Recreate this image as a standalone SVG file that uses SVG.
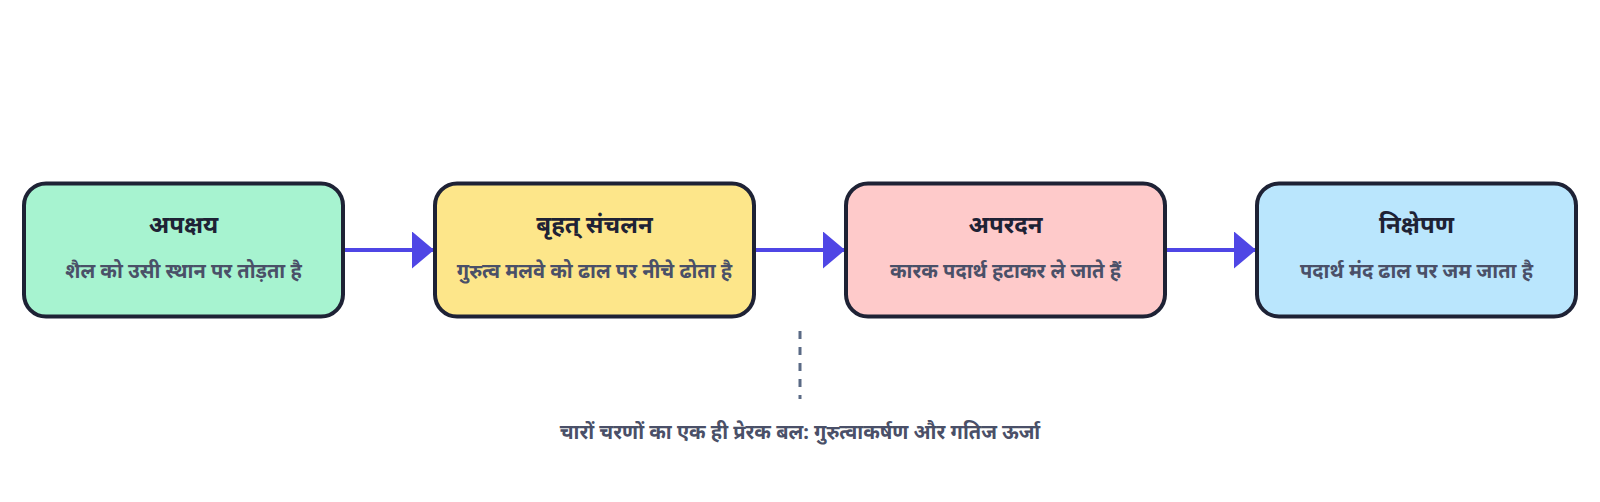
<svg xmlns="http://www.w3.org/2000/svg" width="1600" height="502" viewBox="0 0 1600 502">
<defs>
<style>
.box{stroke:#1e2235;stroke-width:4}
.t{font-family:"Noto Sans","Noto Sans Devanagari",sans-serif;font-weight:700;font-size:24px;fill:#1e2235;text-anchor:middle}
.s{font-family:"Noto Sans","Noto Sans Devanagari",sans-serif;font-weight:700;font-size:20px;fill:#4a5068;text-anchor:middle}
.c{stroke:#4f46e5;stroke-width:4;fill:none}
</style>
<marker id="ah" viewBox="0 0 22 37" refX="22" refY="18.5" markerWidth="22" markerHeight="37" markerUnits="userSpaceOnUse" orient="auto">
<path d="M0,0 L22,18.5 L0,37 Z" fill="#4f46e5"/>
</marker>
</defs>
<rect width="1600" height="502" fill="#ffffff"/>
<g id="connectors">
<line class="c" x1="344" y1="250" x2="434" y2="250" marker-end="url(#ah)"/>
<line class="c" x1="755" y1="250" x2="845" y2="250" marker-end="url(#ah)"/>
<line class="c" x1="1166" y1="250" x2="1256" y2="250" marker-end="url(#ah)"/>
<line x1="800" y1="331" x2="800" y2="399" stroke="#5a6a85" stroke-width="3" stroke-dasharray="8 8"/>
</g>
<g id="n1">
<rect class="box" x="24" y="183.5" width="319" height="133" rx="22" fill="#a7f3d0"/>
<text class="t" x="183.5" y="233">अपक्षय</text>
<text class="s" x="183.5" y="278">शैल को उसी स्थान पर तोड़ता है</text>
</g>
<g id="n2">
<rect class="box" x="435" y="183.5" width="319" height="133" rx="22" fill="#fde68a"/>
<text class="t" x="594.5" y="233">बृहत् संचलन</text>
<text class="s" x="594.5" y="278">गुरुत्व मलवे को ढाल पर नीचे ढोता है</text>
</g>
<g id="n3">
<rect class="box" x="846" y="183.5" width="319" height="133" rx="22" fill="#fecaca"/>
<text class="t" x="1005.5" y="233">अपरदन</text>
<text class="s" x="1005.5" y="278">कारक पदार्थ हटाकर ले जाते हैं</text>
</g>
<g id="n4">
<rect class="box" x="1257" y="183.5" width="319" height="133" rx="22" fill="#bae6fd"/>
<text class="t" x="1416.5" y="233">निक्षेपण</text>
<text class="s" x="1416.5" y="278">पदार्थ मंद ढाल पर जम जाता है</text>
</g>
<g id="note">
<text class="s" x="800" y="439">चारों चरणों का एक ही प्रेरक बल: गुरुत्वाकर्षण और गतिज ऊर्जा</text>
</g>
</svg>
